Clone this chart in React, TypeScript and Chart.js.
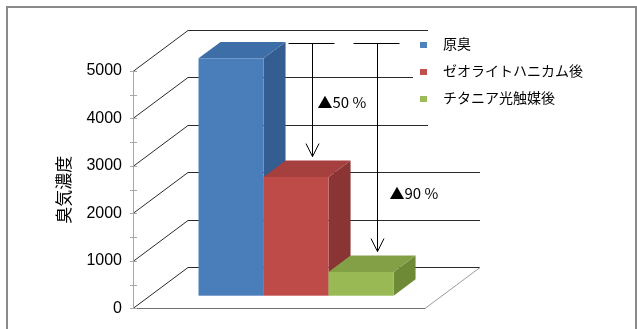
import React, { useEffect, useRef } from 'react';
import { Chart, registerables } from 'chart.js';

Chart.register(...registerables);

// ---- data ----
const seriesNames = ['原臭', 'ゼオライトハニカム後', 'チタニア光触媒後'];
const seriesValues = [5000, 2500, 500];
const yTickValues = [0, 1000, 2000, 3000, 4000, 5000];
const reductionLabels = ['▲50 %', '▲90 %'];
const axisTitle = '臭気濃度';

// ---- styles ----
const FRONT = ['#4A7EBB', '#BE4B48', '#98B954'];
const TOP = ['#3E6EA8', '#A5403E', '#84A046'];
const SIDE = ['#345D91', '#8A3434', '#6E8A37'];
const LEGEND = ['#4F81BD', '#C0504D', '#9BBB59'];
const WALL = { dx: 55, dy: -41 };
const BAR_FRONT = 0.31;
const BAR_BACK = 0.71;
const LABEL_POS = [
  { dx: 5, f: 0.52 },
  { dx: 12, f: 0.72 },
];
const LATIN = "'Liberation Sans', Arial, sans-serif";
const CJK = "'Liberation Sans', 'Noto Sans CJK JP', sans-serif";
const MARK = "'Noto Sans CJK JP', sans-serif";

const threeD = {
  id: 'threeD',
  beforeDatasetsDraw(chart: any) {
    const { ctx, chartArea: a, scales } = chart;
    const y = scales.y;
    const L = a.left;
    const R = a.right;
    const y0 = Math.round(y.getPixelForValue(0));
    ctx.save();

    // frame
    ctx.strokeStyle = '#8a8a8a';
    ctx.lineWidth = 2;
    ctx.strokeRect(7, 7, 629, 340);

    // back wall grid + diagonals
    ctx.lineWidth = 1;
    yTickValues.forEach((v) => {
      const py = Math.round(y.getPixelForValue(v)) + 0.5;
      ctx.strokeStyle = '#2a2a2a';
      ctx.beginPath();
      ctx.moveTo(L, py);
      ctx.lineTo(L + WALL.dx, py + WALL.dy);
      ctx.lineTo(R + WALL.dx, py + WALL.dy);
      ctx.stroke();
    });

    // floor
    ctx.strokeStyle = '#707070';
    ctx.beginPath();
    ctx.moveTo(L, y0 + 0.5);
    ctx.lineTo(R, y0 + 0.5);
    ctx.stroke();
    ctx.strokeStyle = '#9a9a9a';
    ctx.beginPath();
    ctx.moveTo(R, y0 + 0.5);
    ctx.lineTo(R + WALL.dx, y0 + 0.5 + WALL.dy);
    ctx.stroke();

    // front axis + ticks
    const yTop = Math.round(y.getPixelForValue(yTickValues[yTickValues.length - 1]));
    ctx.strokeStyle = '#a8a8a8';
    ctx.beginPath();
    ctx.moveTo(L + 0.5, yTop);
    ctx.lineTo(L + 0.5, y0);
    ctx.stroke();
    const tickVals: number[] = [];
    yTickValues.forEach((v, i) => {
      tickVals.push(v);
      if (i < yTickValues.length - 1) tickVals.push((v + yTickValues[i + 1]) / 2);
    });
    tickVals.forEach((v) => {
      const py = Math.round(y.getPixelForValue(v)) + 0.5;
      ctx.beginPath();
      ctx.moveTo(L - 3, py);
      ctx.lineTo(L + 4, py);
      ctx.stroke();
    });

    // bars
    const fdx = WALL.dx * BAR_FRONT;
    const fdy = WALL.dy * BAR_FRONT;
    const bdx = WALL.dx * (BAR_BACK - BAR_FRONT);
    const bdy = WALL.dy * (BAR_BACK - BAR_FRONT);
    const boxes: any[] = [];
    chart.data.datasets.forEach((_ds: any, i: number) => {
      const el = chart.getDatasetMeta(i).data[0];
      const p = el.getProps(['x', 'y', 'base', 'width'], true);
      const x0 = p.x - p.width / 2 + fdx;
      const x1 = x0 + p.width;
      const t = p.y + fdy;
      const b = p.base + fdy;
      boxes.push({ x: p.x, topBack: t + bdy });
      ctx.fillStyle = SIDE[i];
      ctx.beginPath();
      ctx.moveTo(x1, t);
      ctx.lineTo(x1 + bdx, t + bdy);
      ctx.lineTo(x1 + bdx, b + bdy);
      ctx.lineTo(x1, b);
      ctx.closePath();
      ctx.fill();
      ctx.fillStyle = TOP[i];
      ctx.beginPath();
      ctx.moveTo(x0, t);
      ctx.lineTo(x1, t);
      ctx.lineTo(x1 + bdx, t + bdy);
      ctx.lineTo(x0 + bdx, t + bdy);
      ctx.closePath();
      ctx.fill();
      ctx.fillStyle = FRONT[i];
      ctx.fillRect(x0, t, p.width, b - t);
    });

    // reduction arrows
    const startY = Math.round(boxes[0].topBack) + 1.5;
    ctx.strokeStyle = '#000';
    ctx.fillStyle = '#000';
    ctx.lineWidth = 1;
    ctx.font = `15px ${MARK}`;
    ctx.textBaseline = 'middle';
    ctx.textAlign = 'left';
    reductionLabels.forEach((lab, k) => {
      const bx = boxes[k + 1];
      const ax = Math.round(bx.x + WALL.dx * 0.6) + 0.5;
      const endY = bx.topBack - 4;
      ctx.beginPath();
      ctx.moveTo(ax - 24, startY);
      ctx.lineTo(ax + 22, startY);
      ctx.moveTo(ax, startY);
      ctx.lineTo(ax, endY);
      ctx.moveTo(ax - 6.5, endY - 13);
      ctx.lineTo(ax, endY);
      ctx.lineTo(ax + 6.5, endY - 13);
      ctx.stroke();
      const lp = LABEL_POS[k];
      ctx.fillText(lab, ax + lp.dx, startY + (endY - startY) * lp.f);
    });

    ctx.restore();
    return false;
  },
  afterDraw(chart: any) {
    const { ctx } = chart;
    ctx.save();
    ctx.fillStyle = '#fff';
    ctx.fillRect(428, 29, 190, 98);
    ctx.fillRect(413, 35, 16, 82);
    ctx.font = `14px ${CJK}`;
    ctx.textBaseline = 'middle';
    ctx.textAlign = 'left';
    chart.data.datasets.forEach((ds: any, i: number) => {
      const cy = 45 + i * 27;
      ctx.fillStyle = LEGEND[i];
      ctx.fillRect(420, cy - 3, 7, 6);
      ctx.fillStyle = '#000';
      ctx.fillText(ds.label, 443, cy);
    });
    ctx.restore();
  },
};

export default function App() {
  const ref = useRef<HTMLCanvasElement | null>(null);
  useEffect(() => {
    if (!ref.current) return;
    const chart = new Chart(ref.current, {
      type: 'bar',
      data: {
        labels: [''],
        datasets: seriesNames.map((name, i) => ({
          label: name,
          data: [seriesValues[i]],
          backgroundColor: FRONT[i],
          categoryPercentage: 0.668,
          barPercentage: 1,
        })),
      },
      options: {
        animation: false,
        responsive: false,
        devicePixelRatio: 1,
        layout: { padding: { left: 0, top: 71, right: 212, bottom: 19 } },
        plugins: { legend: { display: false }, tooltip: { enabled: false } },
        scales: {
          x: { display: false },
          y: {
            min: 0,
            max: 5000,
            afterBuildTicks: (axis: any) => {
              axis.ticks = yTickValues.map((v) => ({ value: v }));
            },
            afterFit: (axis: any) => {
              axis.width = 133;
            },
            grid: { display: false, drawTicks: false },
            border: { display: false },
            ticks: {
              padding: 11,
              color: '#000',
              font: { family: LATIN, size: 16 },
              callback: (v: any) => String(v),
            },
            title: {
              display: true,
              text: axisTitle,
              color: '#000',
              font: { family: "'Noto Sans CJK JP', sans-serif", size: 17 },
              padding: { top: 53, bottom: 0 },
            },
          },
        },
      },
      plugins: [threeD],
    });
    return () => chart.destroy();
  }, []);
  return (
    <div style={{ position: 'fixed', left: 0, top: 0, width: 637, height: 329, background: '#fff' }}>
      <canvas ref={ref} width={637} height={329} style={{ width: 637, height: 329, display: 'block' }} />
    </div>
  );
}
